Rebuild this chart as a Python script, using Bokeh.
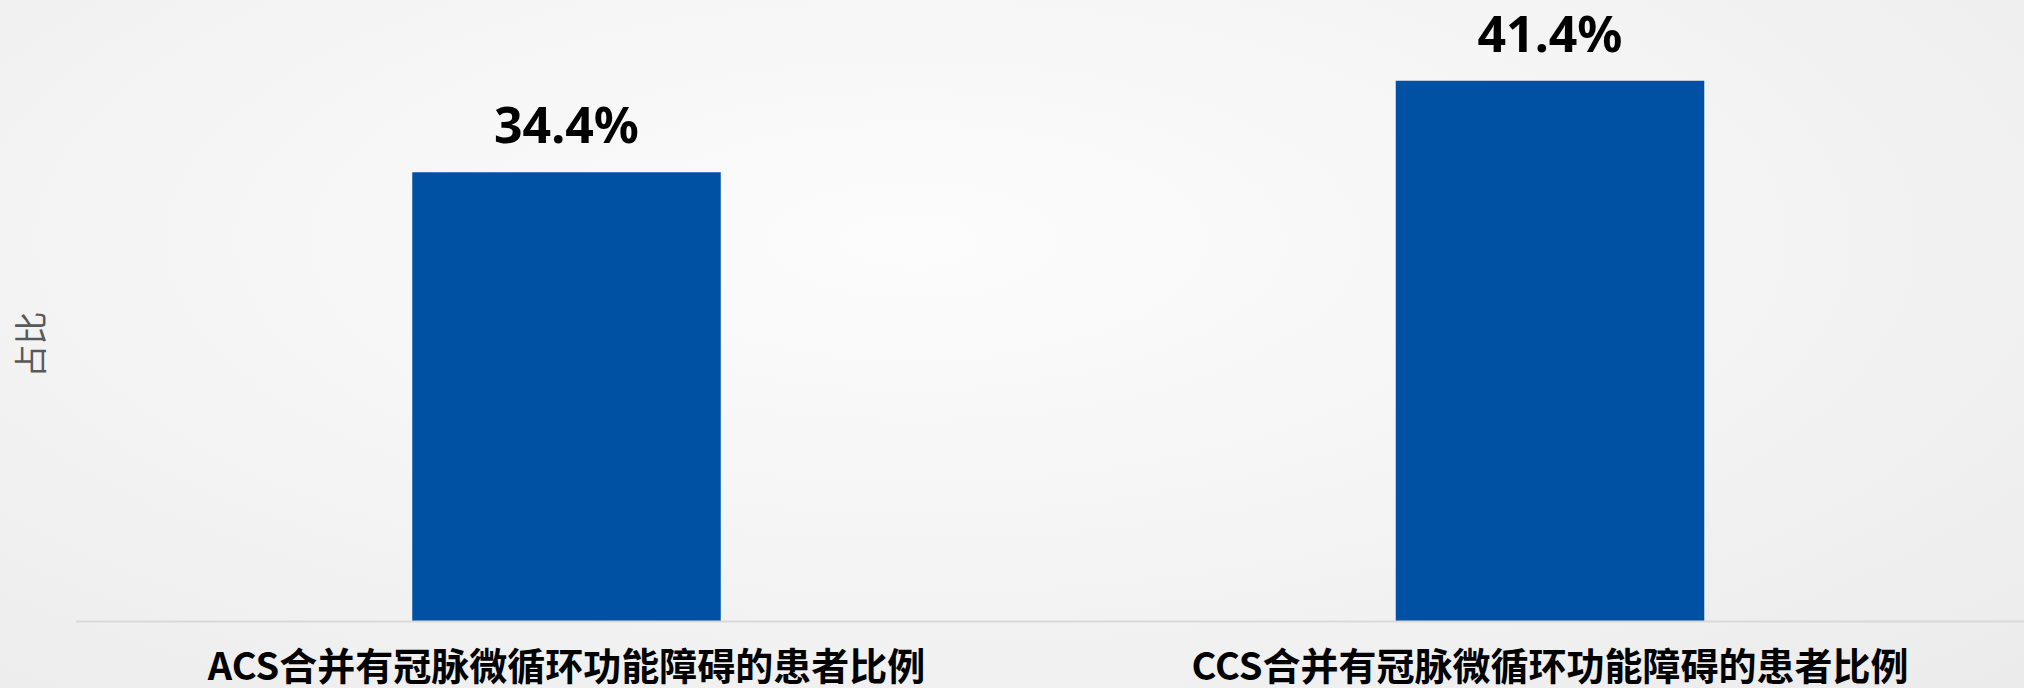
from bokeh.plotting import figure
from bokeh.models import ColumnDataSource, Range1d, FixedTicker, LabelSet, Span
from bokeh.core.properties import value
from bokeh.embed import file_html
from bokeh.resources import INLINE

# ---- data ----
categories = ["ACS合并有冠脉微循环功能障碍的患者比例", "CCS合并有冠脉微循环功能障碍的患者比例"]
values = [34.4, 41.4]
value_labels = ["34.4%", "41.4%"]
y_axis_title = "占比"

positions = list(range(len(categories)))
src = ColumnDataSource(dict(x=positions, top=values, cat=categories, lab=value_labels))

# ---- layout ----
W, H = 2024, 688
FRAME_LEFT = 75
UNIT_PX = 983.5            # pixels between category centres
x_start = -491 / UNIT_PX
x_end = x_start + (W - FRAME_LEFT) / UNIT_PX
BASE_Y = 621               # pixel row of value 0
PX_PER_UNIT = 13.06
y_end = BASE_Y / PX_PER_UNIT
y_start = -(H - BASE_Y) / PX_PER_UNIT

p = figure(width=W, height=H,
           x_range=Range1d(x_start, x_end), y_range=Range1d(y_start, y_end),
           output_backend="svg", toolbar_location=None,
           min_border_left=FRAME_LEFT, min_border_right=0,
           min_border_top=0, min_border_bottom=0)

p.background_fill_alpha = 0
p.border_fill_alpha = 0
p.outline_line_color = None
p.styles = {"background": "radial-gradient(ellipse at 45% 35%, #fcfcfc 0%, #f5f5f5 45%, #ebebeb 100%)"}

p.vbar(x="x", top="top", bottom=0, width=308.5 / UNIT_PX, source=src,
       fill_color="#0050a4", line_color=None)

p.xgrid.visible = False
p.ygrid.visible = False
p.xaxis.visible = False

# baseline (category axis line)
p.add_layout(Span(location=0, dimension="width", line_color="#d9d9d9", line_width=2))

ya = p.yaxis[0]
ya.ticker = FixedTicker(ticks=[])
ya.bounds = (0, 45)
ya.axis_line_color = None
ya.major_tick_out = 0
ya.minor_tick_out = 0
ya.major_tick_in = 0
ya.minor_tick_in = 0
ya.major_label_standoff = 0
ya.axis_label = y_axis_title
ya.axis_label_text_font = "Noto Sans CJK SC"
ya.axis_label_text_font_size = "33px"
ya.axis_label_text_font_style = "normal"
ya.axis_label_text_color = "#595959"
ya.axis_label_standoff = 23

vals = LabelSet(x="x", y="top", text="lab", source=src,
                text_align="center", text_baseline="alphabetic", y_offset=29,
                text_font=value("Noto Sans"), text_font_style="bold",
                text_font_size="50px", text_color="#000000")
p.add_layout(vals)

cats = LabelSet(x="x", y=0, text="cat", source=src,
                text_align="center", text_baseline="alphabetic", y_offset=-58,
                text_font=value("Noto Sans CJK SC"), text_font_style="bold",
                text_font_size="38px", text_color="#000000")
p.add_layout(cats)

open("out.html", "w").write(file_html(p, INLINE))
